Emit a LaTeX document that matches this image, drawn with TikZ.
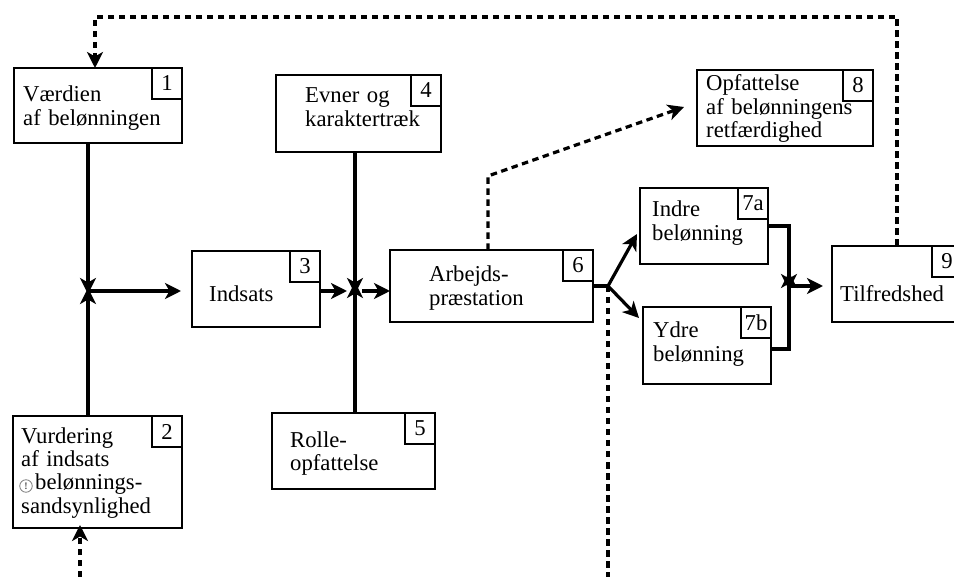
\documentclass[tikz,border=0pt]{standalone}
\usepackage{fontspec}
\setmainfont{Liberation Serif}
\usetikzlibrary{arrows.meta}
\tikzset{
  lbl/.style={font=\fontsize{22.7pt}{23.5pt}\selectfont},
  box/.style={draw, line width=1.8pt, anchor=north west, inner sep=0pt, outer sep=0pt},
  numbox/.style={box, lbl, anchor=north east, minimum width=30pt, minimum height=31pt},
  txt/.style={lbl, anchor=base west, inner sep=0pt, text width=190pt, align=left},
  tip/.style={-{Stealth[length=16pt,width=16pt,inset=4.5pt]}},
  arr/.style={line width=3.2pt, tip},
  link/.style={line width=3.2pt},
  dsh/.style={line width=3.2pt, dash pattern=on 6.5pt off 4.5pt},
  dsharr/.style={dsh, tip},
  warn/.style={circle, draw=black!50, line width=0.8pt, minimum size=12.5pt, inner sep=0pt,
    text=black!70, font=\fontsize{10pt}{10pt}\selectfont\bfseries}
}
\begin{document}
\begin{tikzpicture}[x=1pt,y=-1pt]
\useasboundingbox (0,0) rectangle (954,577);

% boxes
\node[box, minimum width=168pt, minimum height=75pt] (b1) at (14,68) {};
\node[numbox] (n1) at (182,68) {1};
\node[txt] (t1) at (23,102) {Værdien\\af belønningen};

\node[box, minimum width=169pt, minimum height=112pt] (b2) at (13,416) {};
\node[numbox] (n2) at (182,416) {2};
\node[txt] (t2) at (21,443) {Vurdering\\af indsats\\\hspace*{14pt}belønnings-\\sandsynlighed};
\node[warn] (sym) at (26,486) {!};

\node[box, minimum width=128pt, minimum height=76pt] (b3) at (192,251) {};
\node[numbox] (n3) at (320,251) {3};
\node[txt] (t3) at (209,302) {Indsats};

\node[box, minimum width=165pt, minimum height=77pt] (b4) at (276,75) {};
\node[numbox] (n4) at (441,75) {4};
\node[txt] (t4) at (305,103) {Evner og\\karaktertræk};

\node[box, minimum width=163pt, minimum height=76pt] (b5) at (272,413) {};
\node[numbox] (n5) at (435,413) {5};
\node[txt] (t5) at (290,447) {Rolle-\\opfattelse};

\node[box, minimum width=203pt, minimum height=72pt] (b6) at (390,250) {};
\node[numbox] (n6) at (593,250) {6};
\node[txt] (t6) at (429,282) {Arbejds-\\præstation};

\node[box, minimum width=128pt, minimum height=76pt] (b7a) at (640,188) {};
\node[numbox] (n7a) at (768,188) {7a};
\node[txt] (t7a) at (652,217) {Indre\\belønning};

\node[box, minimum width=128pt, minimum height=77pt] (b7b) at (643,307) {};
\node[numbox] (n7b) at (771,307) {7b};
\node[txt] (t7b) at (653,338) {Ydre\\belønning};

\node[box, minimum width=176pt, minimum height=76pt] (b8) at (697,70) {};
\node[numbox] (n8) at (873,70) {8};
\node[txt] (t8) at (706,91) {Opfattelse\\af belønningens\\retfærdighed};

\node[box, minimum width=132pt, minimum height=76pt] (b9) at (832,246) {};
\node[numbox] (n9) at (962,246) {9};
\node[txt] (t9) at (840,302) {Tilfredshed};

% junction points and bends
\coordinate (j1) at (88,291);
\coordinate (j2) at (355,291);
\coordinate (j3) at (608,286);
\coordinate (j4) at (789,286);
\coordinate (k6) at (488,176);
\coordinate (k9) at (897,17);
\coordinate (k1) at (95,17);
\coordinate (bot3) at (608,577);
\coordinate (bot2) at (80,577);

% solid arrows into the first junction
\draw[arr] (b1.south -| j1) -- ([yshift=-3pt]j1);
\draw[arr] (b2.north -| j1) -- ([yshift=3pt]j1);
\draw[arr] (j1) -- ([xshift=-11pt]b3.west |- j1);

% second junction
\draw[arr] (b3.east |- j2) -- ([xshift=-8pt]j2);
\draw[arr] (b4.south -| j2) -- ([yshift=-3pt]j2);
\draw[arr] (b5.north -| j2) -- ([yshift=9pt]j2);
\draw[arr] ([xshift=7pt]j2) -- (b6.west |- j2);

% split after performance
\draw[link] (b6.east |- j3) -- (j3);
\draw[arr] (j3) -- (637,234);
\draw[arr] (j3) -- (639,318);
\draw[dsh] (j3) -- (bot3);

% rewards to satisfaction
\draw[arr] (b7a.east |- 0,226) -- (789,226) -- ([yshift=-4pt]j4);
\draw[arr] (b7b.east |- 0,349) -- (789,349) -- ([yshift=14pt]j4);
\draw[arr] ([xshift=1pt]j4) -- ([xshift=-9pt]b9.west |- j4);

% dashed feedback paths
\draw[dsharr] (b6.north -| k6) -- (k6) -- (684,107);
\draw[dsharr] (b9.north -| k9) -- (k9) -- (k1) -- (b1.north -| k1);
\draw[dsharr] (bot2) -- ([yshift=3pt]b2.south -| bot2);
\end{tikzpicture}
\end{document}
